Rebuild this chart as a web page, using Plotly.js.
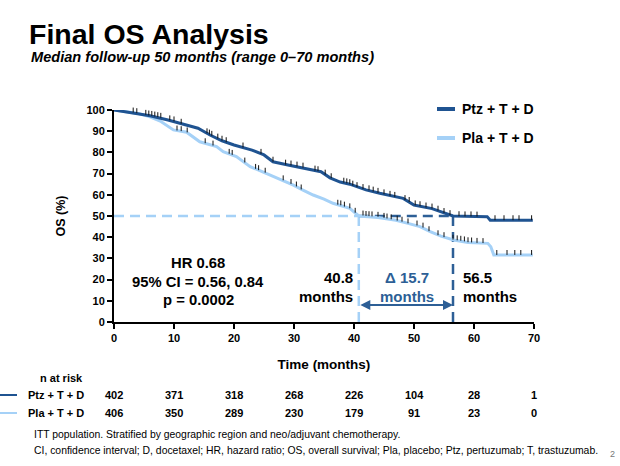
<!DOCTYPE html>
<html>
<head>
<meta charset="utf-8">
<script src="https://cdn.plot.ly/plotly-3.0.1.min.js"></script>
<style>html,body{margin:0;padding:0;background:#fff;}#chart{width:620px;height:466px;}</style>
</head>
<body>
<div id="chart"></div>
<script>
// ---------- DATA ----------
const ptzMonths = [0, 1, 3, 6, 9, 11.5, 14, 16, 18, 20, 23, 25, 26.5, 29, 32, 34.5, 36, 37.7, 39.3, 42, 44.3, 46, 48.2, 50, 53, 56.5, 59, 62.2, 62.7, 69.8];
const ptzOS     = [100, 99.5, 98.7, 97.3, 95.3, 93.2, 91.4, 88.2, 85.5, 83.5, 81.1, 78.8, 75.6, 74.1, 72.5, 70.9, 68, 66, 65, 62.3, 60.7, 59.5, 58.3, 55.2, 53.5, 50, 49.8, 49.7, 48, 48];

const plaMonths = [0, 2, 4, 6, 7.7, 9.9, 12.1, 14.3, 17.1, 18.2, 20.4, 22.7, 25.4, 28, 29.9, 31.5, 33.2, 35, 36.5, 39.3, 40.8, 44, 47, 49, 51, 52.7, 54.5, 56.6, 59, 62.3, 62.8, 63.3, 69.8];
const plaOS     = [100, 99.2, 98.4, 96.8, 94.8, 90.6, 89.5, 85, 82.7, 80.3, 78, 73.3, 70.1, 67, 64.6, 62.2, 59.9, 58, 56, 53.6, 50, 49.3, 48, 46.5, 45, 42.6, 40.5, 38.7, 37.5, 37.1, 35.5, 31.6, 31.6];

const ptzCensorMonths = [0.5, 2, 2.6, 3.2, 3.8, 5.3, 5.8, 6.3, 6.8, 7.3, 7.8, 9.3, 10, 11.2, 15.5, 15.9, 16.3, 17.3, 18, 18.7, 21.5, 24.5, 26.5, 28.6, 29.5, 30.5, 31.5, 33.5, 34, 35.2, 36.2, 38.3, 38.8, 39.3, 39.8, 40.5, 41.5, 42.5, 43.2, 44, 45, 46, 46.8, 48.5, 49.2, 50.2, 51, 52, 53, 54, 55, 56, 57.5, 58.5, 59.5, 60.5, 63.5, 65, 66.5, 67.5, 69.6];
const ptzCensorOS     = [100, 99.2, 99, 98.8, 98.5, 97.7, 97.4, 97.2, 96.9, 96.6, 96.3, 95.1, 94.6, 93.5, 89, 88.4, 87.8, 86.5, 85.5, 84.8, 82.3, 79.3, 75.6, 74.2, 73.8, 73.3, 72.8, 71.4, 71.1, 69.5, 67.8, 65.7, 65.4, 65, 64.3, 63.6, 62.7, 62.1, 61.5, 60.9, 60.2, 59.5, 59, 57.5, 56.6, 55, 54.6, 54, 53.5, 52.5, 51.4, 50.4, 49.9, 49.8, 49.8, 49.7, 48, 48, 48, 48, 48];

const plaCensorMonths = [10.5, 11.2, 12.2, 15.2, 16.5, 19.2, 19.7, 21.8, 23.6, 24.1, 25.2, 28.2, 29.5, 30.4, 31.2, 37.3, 37.8, 38.4, 39.3, 40.2, 41.5, 42, 42.5, 43, 44, 45, 45.5, 46.2, 47.2, 48, 49, 50.5, 51.5, 52.5, 54, 55, 56.5, 57.2, 57.8, 58.4, 59, 59.6, 60.5, 61.5, 63.8, 65.5, 66.8, 67.8, 69.6];
const plaCensorOS     = [90.3, 90, 89.4, 84.3, 83.2, 79.3, 78.8, 75.2, 72.2, 71.6, 70.4, 66.8, 65.1, 63.9, 62.5, 55.3, 55, 54.4, 53.6, 51.5, 50.2, 50, 49.9, 49.8, 49.6, 49.1, 48.8, 48.4, 47.8, 47.3, 46.5, 45.5, 44.5, 42.8, 40.9, 40, 38.8, 38.5, 38.3, 38, 37.6, 37.5, 37.3, 37.2, 31.6, 31.6, 31.6, 31.6, 31.6];

const seriesNames = ["Ptz + T + D", "Pla + T + D"];
const medianMonths = [56.5, 40.8];   // Ptz, Pla
const medianLevel = 50;
const riskMonths = [0, 10, 20, 30, 40, 50, 60, 70];
const ptzAtRisk = [402, 371, 318, 268, 226, 104, 28, 1];
const plaAtRisk = [406, 350, 289, 230, 179, 91, 23, 0];
const xTicks = [0, 10, 20, 30, 40, 50, 60, 70];
const yTicks = [0, 10, 20, 30, 40, 50, 60, 70, 80, 90, 100];

// ---------- STYLE ----------
const DARK = "#1f5391";
const LIGHT = "#a5d1f7";
const DELTA = "#2d5f96";
const FONT = "Liberation Sans, Arial, sans-serif";
const L = 114, R = 534, T = 110, B = 322;
const px = v => (v - L) / (R - L);
const py = v => (B - v) / (B - T);

const traces = [
  {x: plaMonths, y: plaOS, type: "scatter", mode: "lines", line: {color: LIGHT, width: 3}, cliponaxis: false, showlegend: false, hoverinfo: "skip"},
  {x: ptzMonths, y: ptzOS, type: "scatter", mode: "lines", line: {color: DARK, width: 3}, cliponaxis: false, showlegend: false, hoverinfo: "skip"},
  {x: plaCensorMonths, y: plaCensorOS.map(v => v + 1.2), type: "scatter", mode: "markers", cliponaxis: false,
   marker: {symbol: "line-ns", size: 3.5, line: {color: "#111", width: 1}}, showlegend: false, hoverinfo: "skip"},
  {x: ptzCensorMonths, y: ptzCensorOS.map(v => v + 1.2), type: "scatter", mode: "markers", cliponaxis: false,
   marker: {symbol: "line-ns", size: 3.5, line: {color: "#111", width: 1}}, showlegend: false, hoverinfo: "skip"}
];

const shapes = [
  {type: "line", xref: "x", yref: "y", x0: 0, x1: medianMonths[1], y0: medianLevel, y1: medianLevel, layer: "below", line: {color: LIGHT, width: 2.5, dash: "10px,6px"}},
  {type: "line", xref: "x", yref: "y", x0: medianMonths[1], x1: medianMonths[1], y0: 0, y1: medianLevel, layer: "below", line: {color: LIGHT, width: 2.5, dash: "10px,6px"}},
  {type: "line", xref: "x", yref: "y", x0: medianMonths[1], x1: medianMonths[0], y0: medianLevel, y1: medianLevel, layer: "below", line: {color: DELTA, width: 2.5, dash: "10px,6px"}},
  {type: "line", xref: "x", yref: "y", x0: medianMonths[0], x1: medianMonths[0], y0: 0, y1: medianLevel, layer: "below", line: {color: DELTA, width: 2.5, dash: "10px,6px"}},
  // legend samples
  {type: "line", xref: "paper", yref: "paper", x0: px(437), x1: px(455), y0: py(109), y1: py(109), line: {color: DARK, width: 4}},
  {type: "line", xref: "paper", yref: "paper", x0: px(437), x1: px(455), y0: py(138), y1: py(138), line: {color: LIGHT, width: 4}},
  // risk table line keys
  {type: "line", xref: "paper", yref: "paper", x0: px(0), x1: px(17), y0: py(395), y1: py(395), line: {color: DARK, width: 2}},
  {type: "line", xref: "paper", yref: "paper", x0: px(0), x1: px(17), y0: py(413), y1: py(413), line: {color: LIGHT, width: 2}}
];

const bold = (size, color) => ({family: FONT, size: size, color: color || "#000", weight: "bold"});
function txt(text, x, y, font, xanchor, extra) {
  return Object.assign({text: text, xref: "paper", yref: "paper", x: px(x), y: py(y), xanchor: xanchor || "center", yanchor: "middle", showarrow: false, font: font}, extra || {});
}

const annotations = [
  txt("<i>Median follow-up 50 months (range 0–70 months)</i>", 29, 57, bold(14.6), "left"),
  txt(seriesNames[0], 460, 109, bold(14), "left"),
  txt(seriesNames[1], 460, 138, bold(14), "left"),
  txt("HR 0.68", 198, 263, bold(14.8)),
  txt("95% CI = 0.56, 0.84", 198, 282, bold(14.8)),
  txt("p = 0.0002", 198, 300, bold(14.8)),
  txt(medianMonths[1].toFixed(1), 355, 277, bold(15), "right"),
  txt("months", 355, 296, bold(15), "right"),
  txt("Δ " + (medianMonths[0] - medianMonths[1]).toFixed(1), 407, 277, bold(15, DELTA)),
  txt("months", 407, 296, bold(15, DELTA)),
  txt(medianMonths[0].toFixed(1), 461, 277, bold(15), "left"),
  txt("months", 461, 296, bold(15), "left"),
  {x: medianMonths[0], y: 8, ax: medianMonths[1], ay: 8, xref: "x", yref: "y", axref: "x", ayref: "y", text: "", showarrow: true,
   arrowside: "end+start", arrowhead: 2, arrowsize: 1, arrowwidth: 2, arrowcolor: DELTA, standoff: 0, startstandoff: 0},
  txt("n at risk", 61, 378, bold(11)),
  txt(seriesNames[0], 26, 395, bold(11), "left"),
  txt(seriesNames[1], 26, 413, bold(11), "left"),
  txt("ITT population. Stratified by geographic region and neo/adjuvant chemotherapy.", 32, 434, {family: FONT, size: 10.4, color: "#000"}, "left"),
  txt("CI, confidence interval; D, docetaxel; HR, hazard ratio; OS, overall survival; Pla, placebo; Ptz, pertuzumab; T, trastuzumab.", 32, 450, {family: FONT, size: 10.4, color: "#000"}, "left"),
  txt("2", 612, 454, {family: FONT, size: 9, color: "#777"})
];
riskMonths.forEach((m, i) => {
  annotations.push({text: String(ptzAtRisk[i]), xref: "x", yref: "paper", x: m, y: py(395), yanchor: "middle", showarrow: false, font: bold(11)});
  annotations.push({text: String(plaAtRisk[i]), xref: "x", yref: "paper", x: m, y: py(413), yanchor: "middle", showarrow: false, font: bold(11)});
});

const layout = {
  width: 620, height: 466,
  margin: {l: L, r: 620 - R, t: T, b: 466 - B},
  paper_bgcolor: "#fff", plot_bgcolor: "#fff",
  title: {text: "<b>Final OS Analysis</b>", xref: "container", yref: "container", x: 29 / 620, xanchor: "left", y: 1 - 34 / 466, yanchor: "middle", font: {family: FONT, size: 28.5, color: "#000"}},
  xaxis: {range: [0, 70], tickvals: xTicks, showgrid: false, zeroline: false, showline: true, linecolor: "#000", linewidth: 2,
          ticks: "outside", ticklen: 5, tickwidth: 2, tickcolor: "#000", tickfont: bold(11), fixedrange: true,
          title: {text: "Time (months)", font: bold(13.5), standoff: 16}},
  yaxis: {range: [0, 100], tickvals: yTicks, showgrid: false, zeroline: false, showline: true, linecolor: "#000", linewidth: 2,
          ticks: "outside", ticklen: 5, tickwidth: 2, tickcolor: "#000", tickfont: bold(11), fixedrange: true,
          title: {text: "OS (%)", font: bold(12.5), standoff: 18}},
  shapes: shapes,
  annotations: annotations,
  showlegend: false
};

Plotly.newPlot("chart", traces, layout, {displayModeBar: false, staticPlot: true});
</script>
</body>
</html>
